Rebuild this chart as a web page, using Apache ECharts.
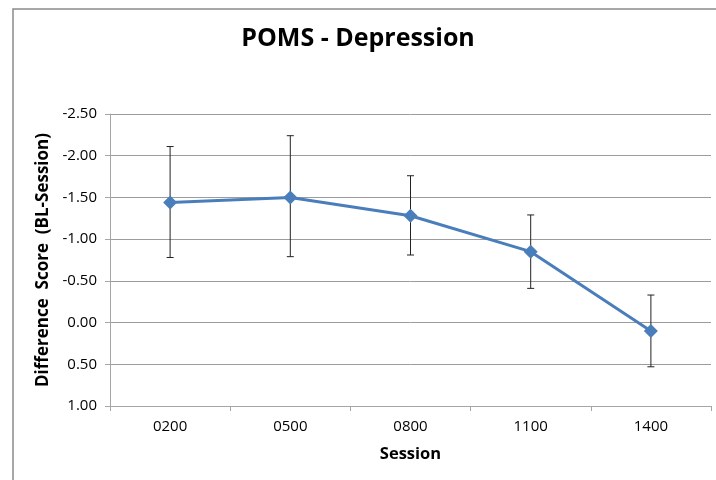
<!DOCTYPE html>
<html>
<head>
<meta charset="utf-8">
<script src="https://cdn.jsdelivr.net/npm/echarts@6/dist/echarts.min.js"></script>
<style>html,body{margin:0;padding:0;background:#fff}#c{width:716px;height:480px}</style>
</head>
<body>
<div id="c"></div>
<script>
const sessions = ['0200', '0500', '0800', '1100', '1400'];
const meanDiff = [-1.44, -1.50, -1.28, -0.85, 0.10];
const errUpper = [-2.11, -2.24, -1.76, -1.29, -0.33];
const errLower = [-0.78, -0.79, -0.81, -0.41, 0.53];
const yTicks = { min: -2.5, max: 1.0, step: 0.5 };

const chart = echarts.init(document.getElementById('c'), null, { renderer: 'canvas' });
const font = '"Open Sans", "Liberation Sans", sans-serif';
const errData = sessions.map((s, i) => [i, errUpper[i], errLower[i]]);

chart.setOption({
  animation: false,
  backgroundColor: '#fff',
  graphic: [{
    type: 'rect', left: 10.5, top: 6.5, shape: { width: 800, height: 600 },
    style: { fill: 'none', stroke: '#8a8a8a', lineWidth: 1.5 }, silent: true, z: -1
  }],
  title: {
    text: 'POMS - Depression', left: 'center', top: 21,
    textStyle: { fontFamily: font, fontWeight: 'bold', fontSize: 25, color: '#000' }
  },
  grid: { left: 110, right: 5, top: 114, bottom: 74 },
  xAxis: {
    type: 'category', data: sessions, boundaryGap: true,
    name: 'Session', nameLocation: 'middle', nameGap: 40,
    nameTextStyle: { fontFamily: font, fontWeight: 'bold', fontSize: 16.5, color: '#000' },
    axisLine: { onZero: false, lineStyle: { color: '#a6a6a6', width: 1 } },
    axisTick: { show: true, interval: 0, length: 5, lineStyle: { color: '#a6a6a6' } },
    axisLabel: { fontFamily: font, fontSize: 15, color: '#000', margin: 13 }
  },
  yAxis: {
    type: 'value', inverse: true, min: yTicks.min, max: yTicks.max, interval: yTicks.step,
    name: 'Difference  Score  (BL-Session)', nameLocation: 'middle', nameGap: 58,
    nameTextStyle: { fontFamily: font, fontWeight: 'bold', fontSize: 17, color: '#000' },
    axisLine: { show: true, lineStyle: { color: '#a6a6a6', width: 1 } },
    axisTick: { show: true, length: 5, lineStyle: { color: '#a6a6a6' } },
    axisLabel: { fontFamily: font, fontSize: 15, color: '#000', margin: 13,
      formatter: v => (Math.abs(v) < 1e-9 ? 0 : v).toFixed(2) },
    splitLine: { show: true, lineStyle: { color: '#9c9c9c', width: 1 } }
  },
  series: [
    {
      type: 'custom', data: errData, z: 1,
      renderItem: (params, api) => {
        const x = api.value(0);
        const top = api.coord([x, api.value(1)]);
        const bot = api.coord([x, api.value(2)]);
        const hw = 3.5;
        const st = { stroke: '#222', lineWidth: 1 };
        return { type: 'group', children: [
          { type: 'line', shape: { x1: top[0], y1: top[1], x2: bot[0], y2: bot[1] }, style: st },
          { type: 'line', shape: { x1: top[0]-hw, y1: top[1], x2: top[0]+hw, y2: top[1] }, style: st },
          { type: 'line', shape: { x1: bot[0]-hw, y1: bot[1], x2: bot[0]+hw, y2: bot[1] }, style: st }
        ]};
      }
    },
    {
      type: 'line', data: meanDiff, z: 3,
      symbol: 'diamond', symbolSize: 14,
      lineStyle: { color: '#4a7ebb', width: 3 },
      itemStyle: { color: '#4a7ebb' }
    }
  ]
});
</script>
</body>
</html>
